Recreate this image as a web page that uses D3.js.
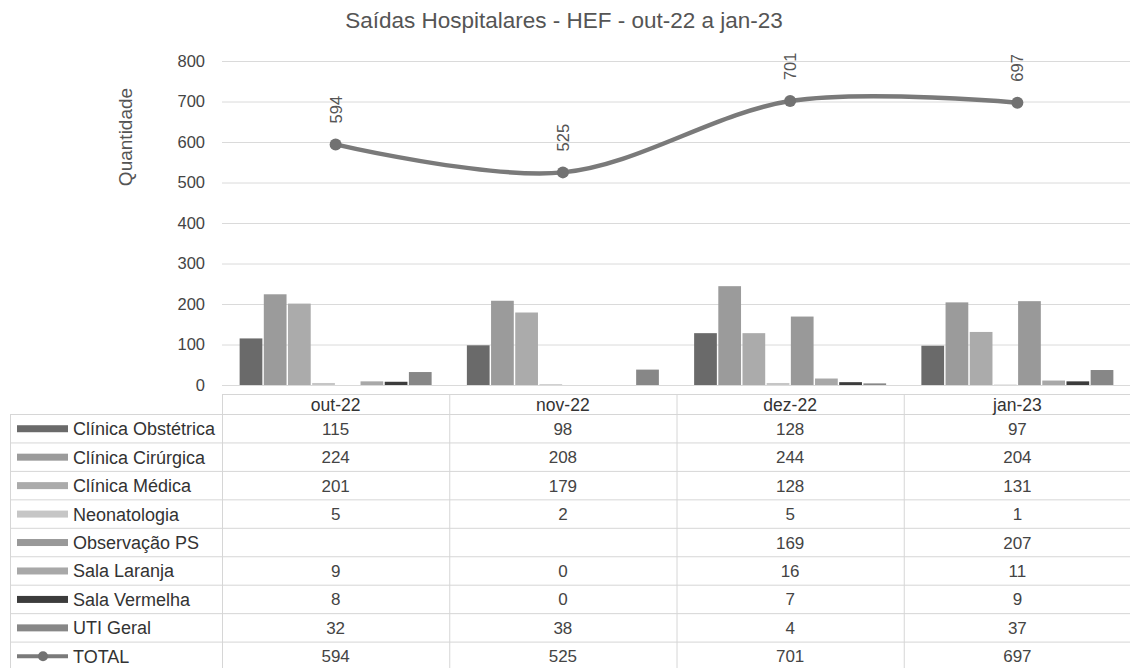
<!DOCTYPE html>
<html><head><meta charset="utf-8">
<script src="https://cdn.jsdelivr.net/npm/d3@7"></script>
<style>body{margin:0;background:#fff}svg{display:block;font-family:"Liberation Sans",Arial,sans-serif}</style>
</head><body><svg id="c" width="1130" height="668"></svg>
<script>
const categories = ["out-22","nov-22","dez-22","jan-23"];
const seriesNames = ["Clínica Obstétrica","Clínica Cirúrgica","Clínica Médica","Neonatologia","Observação PS","Sala Laranja","Sala Vermelha","UTI Geral"];
const obstetrica = [115,98,128,97];
const cirurgica = [224,208,244,204];
const medica = [201,179,128,131];
const neonatologia = [5,2,5,1];
const observacaoPS = [null,null,169,207];
const salaLaranja = [9,0,16,11];
const salaVermelha = [8,0,7,9];
const utiGeral = [32,38,4,37];
const total = [594,525,701,697];
const yTicks = [0,100,200,300,400,500,600,700,800];
const seriesColors = ["#6a6a6a","#9b9b9b","#ababab","#c6c6c6","#999999","#a8a8a8","#3c3c3c","#878787"];

const seriesValues = [obstetrica,cirurgica,medica,neonatologia,observacaoPS,salaLaranja,salaVermelha,utiGeral];
const svg = d3.select("#c");
const L = 222, R = 1131, plotTop = 61, base = 385;
const x0 = d3.scaleBand().domain(categories).range([L,R]);
const groupW = 192;
const x1 = d3.scaleBand().domain(seriesNames).range([0,groupW]).paddingInner(0.06);
const y = d3.scaleLinear().domain([0,800]).range([base,plotTop]);

// title
svg.append("text").attr("x",564).attr("y",28).attr("text-anchor","middle")
  .attr("font-size",22.5).attr("fill","#555").text("Saídas Hospitalares - HEF - out-22 a jan-23");
// y title
svg.append("text").attr("transform","translate(132,137) rotate(-90)").attr("text-anchor","middle")
  .attr("font-size",19).attr("fill","#555").text("Quantidade");

// grid
svg.append("g").selectAll("line").data(yTicks).join("line")
  .attr("x1",L).attr("x2",R).attr("y1",d=>y(d)+0.5).attr("y2",d=>y(d)+0.5)
  .attr("stroke","#dadada").attr("stroke-width",1);
// y axis labels
const yAxis = d3.axisLeft(y).tickValues(yTicks).tickSize(0).tickPadding(0);
const gy = svg.append("g").attr("transform",`translate(205,0)`).call(yAxis);
gy.select(".domain").remove();
gy.selectAll("text").attr("font-size",16.5).attr("fill","#444").attr("font-family","Liberation Sans, Arial, sans-serif");

// bars
const gBars = svg.append("g");
seriesNames.forEach((s,si)=>{
  gBars.selectAll(null).data(categories.map((c,ci)=>({c,v:seriesValues[si][ci]})).filter(d=>d.v!==null))
    .join("rect")
    .attr("x",d=>x0(d.c)+(x0.bandwidth()-groupW)/2+x1(s))
    .attr("width",x1.bandwidth())
    .attr("y",d=>y(d.v)).attr("height",d=>base-y(d.v))
    .attr("fill",seriesColors[si]);
});

// line
const cx = c => x0(c)+x0.bandwidth()/2;
const line = d3.line().x((d,i)=>cx(categories[i])).y(d=>y(d)).curve(d3.curveCardinal.tension(0));
svg.append("path").attr("d",line(total)).attr("fill","none").attr("stroke","#7a7a7a").attr("stroke-width",4.5);
svg.append("g").selectAll("circle").data(total).join("circle")
  .attr("cx",(d,i)=>cx(categories[i])).attr("cy",d=>y(d)).attr("r",6).attr("fill","#727272");
svg.append("g").selectAll("text").data(total).join("text")
  .attr("transform",(d,i)=>`translate(${cx(categories[i])+6},${y(d)-21}) rotate(-90)`)
  .attr("font-size",16.5).attr("fill","#555").text(d=>d);

// data table
const tTop = 394, hdrB = 414.5, rowH = 28.45;
const tg = svg.append("g");
const gridC = "#d6d6d6";
tg.append("line").attr("x1",L).attr("x2",R).attr("y1",tTop+0.5).attr("y2",tTop+0.5).attr("stroke",gridC);
for(let r=0;r<=9;r++){
  const yy = hdrB + r*rowH;
  tg.append("line").attr("x1",10).attr("x2",R).attr("y1",yy).attr("y2",yy).attr("stroke",gridC);
}
tg.append("line").attr("x1",10.5).attr("x2",10.5).attr("y1",hdrB).attr("y2",668).attr("stroke",gridC);
categories.forEach(c=>{
  tg.append("line").attr("x1",x0(c)+0.5).attr("x2",x0(c)+0.5).attr("y1",tTop).attr("y2",668).attr("stroke",gridC);
  tg.append("text").attr("x",cx(c)).attr("y",(tTop+hdrB)/2+6.5).attr("text-anchor","middle")
    .attr("font-size",17.5).attr("fill","#333").text(c);
});
const rows = seriesNames.map((s,i)=>({name:s,vals:seriesValues[i],color:seriesColors[i],line:false}))
  .concat([{name:"TOTAL",vals:total,color:"#7a7a7a",line:true}]);
rows.forEach((r,ri)=>{
  const yc = hdrB + rowH*(ri+0.5);
  if(r.line){
    tg.append("line").attr("x1",17).attr("x2",68).attr("y1",yc).attr("y2",yc).attr("stroke",r.color).attr("stroke-width",4);
    tg.append("circle").attr("cx",43).attr("cy",yc).attr("r",5).attr("fill","#727272");
  } else {
    tg.append("rect").attr("x",17).attr("y",yc-3.5).attr("width",51).attr("height",7).attr("fill",r.color);
  }
  tg.append("text").attr("x",73).attr("y",yc+6.5).attr("font-size",18).attr("fill","#333").text(r.name);
  categories.forEach((c,ci)=>{
    const v = r.vals[ci];
    if(v===null) return;
    tg.append("text").attr("x",cx(c)).attr("y",yc+6).attr("text-anchor","middle")
      .attr("font-size",17).attr("fill","#444").text(v);
  });
});
</script></body></html>
